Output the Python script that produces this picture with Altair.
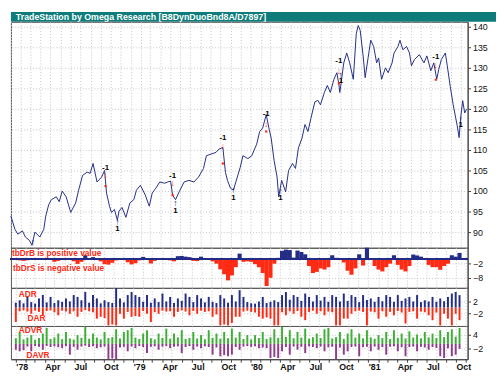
import altair as alt
import pandas as pd

title_text = "TradeStation by Omega Research  [B8DynDuoBnd8A/D7897]"

price_dates = [
    "1978-01-01", "1978-01-13", "1978-01-22", "1978-02-05", "1978-02-14", "1978-02-26", "1978-03-06", "1978-03-15",
    "1978-03-30", "1978-04-11", "1978-04-17", "1978-04-26", "1978-05-04", "1978-05-19", "1978-05-28", "1978-06-06",
    "1978-06-18", "1978-07-02", "1978-07-17", "1978-07-26", "1978-08-07", "1978-08-21", "1978-08-30", "1978-09-08",
    "1978-09-20", "1978-10-04", "1978-10-13", "1978-10-19", "1978-10-28", "1978-11-03", "1978-11-12", "1978-11-21",
    "1978-11-26", "1978-12-05", "1978-12-17", "1978-12-29", "1979-01-10", "1979-01-18", "1979-01-30", "1979-02-14",
    "1979-02-26", "1979-03-07", "1979-03-18", "1979-03-30", "1979-04-14", "1979-04-23", "1979-05-02", "1979-05-08",
    "1979-05-17", "1979-05-28", "1979-06-12", "1979-06-27", "1979-07-12", "1979-07-26", "1979-08-10", "1979-08-19",
    "1979-09-02", "1979-09-17", "1979-09-26", "1979-10-08", "1979-10-16", "1979-10-22", "1979-10-31", "1979-11-09",
    "1979-11-21", "1979-11-30", "1979-12-08", "1979-12-23", "1980-01-04", "1980-01-19", "1980-01-28", "1980-02-06",
    "1980-02-17", "1980-02-26", "1980-03-03", "1980-03-12", "1980-03-21", "1980-03-26", "1980-04-04", "1980-04-16",
    "1980-04-25", "1980-05-07", "1980-05-16", "1980-05-25", "1980-06-05", "1980-06-14", "1980-06-23", "1980-07-02",
    "1980-07-14", "1980-07-23", "1980-07-31", "1980-08-12", "1980-08-21", "1980-08-30", "1980-09-10", "1980-09-19",
    "1980-09-25", "1980-09-28", "1980-10-10", "1980-10-19", "1980-10-28", "1980-11-08", "1980-11-17", "1980-11-23",
    "1980-11-29", "1980-12-08", "1980-12-14", "1980-12-23", "1980-12-31", "1981-01-09", "1981-01-18", "1981-01-24",
    "1981-02-02", "1981-02-14", "1981-02-22", "1981-03-06", "1981-03-12", "1981-03-24", "1981-03-30", "1981-04-08",
    "1981-04-19", "1981-04-28", "1981-05-04", "1981-05-13", "1981-05-28", "1981-06-11", "1981-06-20", "1981-07-02",
    "1981-07-11", "1981-07-20", "1981-07-26", "1981-08-03", "1981-08-15", "1981-08-21", "1981-08-30", "1981-09-08",
    "1981-09-14", "1981-09-20", "1981-09-26", "1981-10-01", "1981-10-07", "1981-10-13", "1981-10-19",
]
price_values = [
    93.9, 90.7, 89.5, 90.3, 88.8, 88.0, 86.8, 90.0,
    88.8, 90.7, 93.9, 96.7, 97.9, 98.6, 97.4, 100.0,
    98.6, 94.8, 97.1, 100.2, 103.8, 104.6, 104.3, 106.7,
    102.2, 103.4, 105.0, 99.5, 96.3, 94.8, 95.5, 92.9,
    95.1, 96.0, 93.6, 97.1, 97.9, 100.2, 101.4, 99.0,
    96.3, 99.5, 100.7, 102.2, 101.9, 102.2, 102.4, 99.0,
    97.9, 99.8, 102.2, 102.6, 102.2, 103.4, 105.5, 108.6,
    109.0, 109.4, 110.2, 110.6, 104.5, 102.6, 100.7, 100.2,
    103.4, 105.8, 108.6, 107.9, 108.6, 111.4, 114.5, 115.3,
    118.6, 115.0, 112.9, 107.4, 103.4, 98.6, 102.6, 99.8,
    105.0, 106.7, 105.5, 110.5, 112.9, 116.2, 114.5, 117.7,
    121.7, 122.1, 121.0, 124.0, 125.7, 124.0, 127.2, 128.8,
    126.0, 124.0, 131.2, 133.6, 131.2, 127.2, 138.3, 140.3,
    139.1, 132.9, 127.6, 132.4, 136.7, 135.2, 131.2, 132.4,
    127.2, 130.0, 128.8, 131.2, 133.6, 135.2, 136.7, 134.4,
    135.2, 133.6, 130.5, 132.0, 133.2, 131.2, 132.9, 129.3,
    131.2, 127.2, 129.6, 132.0, 133.6, 130.5, 125.5, 121.0,
    118.5, 116.0, 113.0, 118.0, 122.0, 119.0, 120.0,
]

sell_dates = ["1978-10-16", "1979-05-08", "1979-10-08", "1980-02-17", "1980-09-25", "1981-07-17"]
sell_label_y = [105.7, 103.6, 112.9, 118.8, 131.7, 132.6]
sell_arrow_y = [103.8, 101.9, 111.0, 116.4, 129.3, 130.7]
sell_dot_y = [101.2, 99.0, 106.7, 114.5, 126.2, 127.1]

buy_arrow_dates = ["1978-03-09", "1978-11-21", "1979-05-17", "1979-11-09", "1980-03-31", "1980-10-01", "1981-10-01"]
buy_arrow_y = [87.6, 92.4, 97.1, 100.2, 100.0, 128.3, 117.6]
buy_label_dates = ["1978-11-21", "1979-05-17", "1979-11-09", "1980-03-31", "1980-10-01", "1981-10-01"]
buy_label_y = [90.7, 95.2, 98.3, 98.4, 126.7, 116.0]

# indicator histograms, one value every 12 days from 1978-01-01
hist_start = "1978-01-01"
tbdr = [
    -0.3, -0.6, -0.8, -0.5, 0.2, 0.3, 0.4, -0.3, 0.2, 0.3, -1.2, -0.8, 0.2, 0.3, 0.2, -1.0,
    -2.1, -1.2, 1.6, 0.4, 0.8, 0.3, -1.0, -2.2, -2.4, -1.6, -0.6, 0.3, 0.2, -1.4, -2.3, -1.8,
    -0.6, 0.9, 0.2, -1.9, -0.8, 0.3, 0.2, 0.4, -0.6, -1.0, 1.2, 1.3, 1.0, 0.8, -0.8, -0.9,
    1.0, 0.3, 0.2, -1.0, -2.0, -4.4, -6.5, -9.1, -7.0, -3.5, 2.3, -1.2, -1.0, -1.2, -2.2, -3.5,
    -6.0, -11.5, -8.0, -2.0, 0.5, 3.5, 4.0, 3.8, 0.6, 3.6, 3.0, 2.0, -3.0, -6.0, -5.5, -4.0,
    -4.5, -3.5, 1.6, 0.5, 0.3, -1.5, -5.0, -6.7, -4.0, 2.0, -2.8, 4.8, 0.4, -3.0, -4.5, -5.3,
    -3.5, -2.0, 1.6, -2.5, -4.5, -5.3, -3.0, 1.9, 1.5, 1.0, 0.3, -2.5, -3.5, -3.5, -4.6, -3.0,
    -2.0, 1.6, 1.0, 2.6,
]
adr = [
    1.6, 2.4, 1.4, 3.5, 1.8, 1.3, 3.0, 4.1, 1.7, 3.5, 1.5, 2.4, 1.9, 3.0, 2.0, 4.1,
    3.5, 2.4, 5.1, 1.6, 4.1, 3.0, 1.4, 2.4, 1.8, 1.5, 6.4, 3.0, 1.7, 4.1, 5.1, 4.1,
    3.5, 1.9, 4.1, 1.6, 3.0, 1.8, 4.6, 2.0, 3.5, 1.5, 3.0, 2.2, 4.6, 3.5, 1.8, 4.1,
    3.0, 1.7, 3.5, 1.9, 1.5, 4.1, 3.0, 1.6, 4.1, 2.0, 5.7, 3.5, 1.8, 1.4, 1.3, 2.0,
    3.5, 1.5, 1.9, 2.4, 1.8, 4.1, 5.1, 2.6, 4.1, 3.5, 2.2, 4.6, 3.5, 2.0, 4.1, 2.3,
    3.5, 1.9, 4.1, 3.5, 2.0, 4.6, 2.2, 4.1, 3.5, 1.8, 4.1, 2.5, 3.0, 1.9, 3.5, 2.1,
    4.1, 3.5, 1.9, 4.1, 2.2, 3.0, 3.5, 2.0, 4.1, 1.8, 2.4, 2.0, 3.5, 1.9, 3.0, 2.1,
    3.5, 4.6, 5.1, 4.1,
]
dar = [
    -4.7, -1.2, -0.9, -1.3, -2.0, -1.0, -1.4, -2.5, -1.1, -0.9, -1.5, -2.5, -1.0, -1.3, -2.0, -1.2,
    -3.0, -1.4, -0.8, -1.2, -1.5, -3.6, -3.0, -3.4, -5.8, -5.5, -5.8, -2.0, -3.6, -1.4, -3.0, -2.8,
    -3.0, -1.1, -2.0, -4.7, -1.5, -2.0, -1.0, -1.3, -1.2, -3.0, -1.4, -0.9, -1.3, -2.5, -1.1, -2.0,
    -1.0, -1.4, -1.2, -3.0, -2.2, -5.8, -5.5, -5.8, -5.0, -3.0, -3.0, -1.3, -1.0, -1.4, -1.6, -3.0,
    -3.6, -3.2, -3.6, -5.8, -5.8, -1.5, -2.5, -1.2, -2.0, -1.1, -3.0, -4.1, -1.4, -1.0, -2.0, -1.2,
    -2.5, -1.3, -1.5, -5.8, -5.8, -3.6, -3.6, -2.0, -1.2, -1.0, -1.4, -5.8, -1.3, -1.5, -3.6, -1.2,
    -3.0, -1.4, -2.5, -1.1, -1.6, -5.2, -1.4, -1.2, -3.6, -1.3, -1.5, -2.5, -4.1, -1.6, -5.8, -2.0,
    -3.6, -5.8, -2.0, -4.1,
]
advr = [
    2.5, 5.3, 2.0, 2.8, 3.9, 1.8, 2.6, 4.6, 7.1, 2.2, 2.9, 4.6, 2.1, 5.3, 2.4, 1.9,
    3.9, 2.7, 7.5, 2.3, 4.6, 2.8, 2.0, 5.3, 2.6, 3.0, 6.5, 2.4, 5.3, 6.1, 7.1, 2.8,
    2.2, 4.6, 6.1, 2.5, 2.0, 4.6, 2.7, 6.8, 2.3, 4.6, 2.9, 6.1, 2.2, 2.6, 5.3, 2.4,
    3.9, 2.1, 6.1, 2.7, 4.6, 2.3, 5.3, 2.5, 6.8, 2.8, 5.3, 2.2, 3.9, 2.0, 3.9, 2.6,
    5.3, 2.2, 2.9, 6.5, 2.7, 7.5, 3.1, 6.1, 2.5, 5.3, 2.8, 6.8, 2.3, 3.0, 4.6, 2.6,
    6.5, 7.1, 2.4, 3.0, 5.3, 2.2, 4.6, 6.5, 2.8, 4.6, 2.5, 6.1, 2.9, 2.3, 3.9, 2.6,
    5.3, 2.2, 6.1, 2.7, 4.6, 2.4, 5.6, 2.8, 4.2, 2.5, 5.3, 2.9, 4.6, 2.6, 6.1, 3.0,
    5.3, 6.5, 3.2, 7.1,
]
davr = [
    -2.6, -3.3, -2.8, -1.2, -3.3, -1.0, -1.3, -2.6, -0.9, -1.4, -1.1, -1.5, -1.9, -1.0, -4.8, -1.3,
    -2.6, -1.2, -0.8, -1.4, -1.1, -1.9, -1.5, -1.2, -6.8, -6.5, -6.8, -1.6, -1.3, -3.3, -1.2, -1.9,
    -1.0, -1.4, -4.1, -1.3, -1.1, -2.6, -1.2, -1.0, -1.9, -1.3, -1.1, -4.1, -1.4, -1.0, -2.6, -1.2,
    -1.9, -1.1, -1.4, -4.8, -1.6, -5.5, -5.0, -5.5, -4.8, -1.4, -2.6, -1.2, -1.0, -1.3, -1.1, -1.9,
    -1.6, -1.9, -6.3, -5.8, -6.3, -3.3, -1.4, -4.8, -1.2, -2.6, -1.3, -4.1, -1.1, -1.4, -1.9, -1.2,
    -3.3, -1.5, -1.3, -6.8, -1.6, -4.8, -3.3, -1.4, -1.2, -5.5, -1.5, -1.3, -3.3, -1.2, -2.6, -1.4,
    -4.8, -1.3, -1.1, -3.3, -1.5, -5.5, -1.4, -1.2, -3.3, -1.3, -1.6, -2.6, -1.4, -1.8, -5.5, -6.3,
    -2.0, -5.5, -4.8, -2.2,
]

FONT = "Liberation Sans"
NAVY = "#232c86"
RED = "#ff2a14"
GREEN = "#3cb034"
PURPLE = "#8e3d8c"
GRID = "#c4c4c4"
W = 467

hist_dates = pd.date_range(hist_start, periods=len(tbdr), freq="12D")
hist_df = pd.DataFrame({"date": hist_dates, "tbdr": tbdr, "adr": adr, "dar": dar,
                        "advr": advr, "davr": davr})
price_df = pd.DataFrame({"date": pd.to_datetime(price_dates), "value": price_values})
sell_df = pd.DataFrame({"date": pd.to_datetime(sell_dates), "label": sell_label_y,
                        "arrow": sell_arrow_y, "dot": sell_dot_y})
buy_arrow_df = pd.DataFrame({"date": pd.to_datetime(buy_arrow_dates), "arrow": buy_arrow_y})
buy_label_df = pd.DataFrame({"date": pd.to_datetime(buy_label_dates), "label": buy_label_y})

xscale = alt.Scale(domain=[alt.DateTime(year=1978, month=1, date=1),
                           alt.DateTime(year=1981, month=10, date=22)])
month_ticks = {"interval": "month", "step": 1}
grid_x = alt.Axis(title=None, labels=False, ticks=False, domain=False, grid=True,
                  gridColor=GRID, gridDash=[1, 2], tickCount=month_ticks)
bottom_x = alt.Axis(
    title=None, grid=True, gridColor=GRID, gridDash=[1, 2], tickCount=month_ticks,
    labelExpr="month(datum.value) == 0 ? \"'\" + timeFormat(datum.value, '%y') : "
              "(month(datum.value) % 3 == 0 ? timeFormat(datum.value, '%b') : '')",
    labelAlign="left", labelOverlap=False, labelFontSize=9, labelFontWeight="bold",
    labelColor="#111111", tickSize=3, tickColor="#404040", domainColor="#404040",
    labelPadding=1, labelFont=FONT)


def yaxis(vals):
    return alt.Axis(orient="right", title=None, values=vals, grid=True, gridColor=GRID,
                    gridDash=[1, 2], tickSize=3, tickColor="#404040", domainColor="#404040",
                    labelFontSize=9, labelFont=FONT, labelColor="#111111", labelPadding=2)


def xenc(axis):
    return alt.X("date:T", scale=xscale, axis=axis)


def panel_text(txt, x, y):
    return alt.Chart(pd.DataFrame({"t": [txt]})).mark_text(
        align="left", baseline="middle", color=RED, fontWeight="bold", fontSize=8.5, font=FONT
    ).encode(text="t:N", x=alt.value(x), y=alt.value(y))


# title bar
title_bar = alt.Chart(pd.DataFrame({"t": [title_text]})).mark_text(
    align="left", baseline="middle", color="white", fontWeight="bold", fontSize=9, font=FONT
).encode(text="t:N", x=alt.value(5), y=alt.value(5)).properties(
    width=496, height=10, view=alt.ViewBackground(fill="#0e7c7b", strokeWidth=0))

# main price panel
py = alt.Scale(domain=[86.19, 141.19], nice=False, zero=False)
pyax = yaxis(list(range(90, 141, 5)))
line = alt.Chart(price_df).mark_line(color=NAVY, strokeWidth=1).encode(
    x=xenc(grid_x), y=alt.Y("value:Q", scale=py, axis=pyax))
sell_lab = alt.Chart(sell_df).mark_text(text="-1", fontSize=8, fontWeight="bold", color="black",
                                        font=FONT).encode(
    x=xenc(grid_x), y=alt.Y("label:Q", scale=py, axis=pyax))
sell_arr = alt.Chart(sell_df).mark_text(text="↓", fontSize=9, fontWeight="bold", color=RED).encode(
    x=xenc(grid_x), y=alt.Y("arrow:Q", scale=py, axis=pyax))
sell_dot = alt.Chart(sell_df).mark_square(size=5, color=RED, opacity=1).encode(
    x=xenc(grid_x), y=alt.Y("dot:Q", scale=py, axis=pyax))
buy_arr = alt.Chart(buy_arrow_df).mark_text(text="↑", fontSize=9, fontWeight="bold", color=NAVY).encode(
    x=xenc(grid_x), y=alt.Y("arrow:Q", scale=py, axis=pyax))
buy_lab = alt.Chart(buy_label_df).mark_text(text="1", fontSize=8, fontWeight="bold", color="black",
                                            font=FONT).encode(
    x=xenc(grid_x), y=alt.Y("label:Q", scale=py, axis=pyax))
main = alt.layer(line, sell_dot, sell_arr, sell_lab, buy_arr, buy_lab).properties(width=W, height=231)

# tbDr panel
tscale = alt.Scale(domain=[-12.29, 4.79], nice=False)
tax = yaxis([-2, -8])
tb_bars = alt.Chart(hist_df).mark_bar(size=4.2).encode(
    x=xenc(grid_x), y=alt.Y("tbdr:Q", scale=tscale, axis=tax), y2=alt.datum(0),
    color=alt.condition("datum.tbdr >= 0", alt.value(NAVY), alt.value(RED)))
tb_zero = alt.Chart(hist_df).mark_rule(color=NAVY, strokeWidth=1).encode(
    y=alt.datum(0, scale=tscale))
tb = alt.layer(tb_bars, tb_zero,
               panel_text("tbDrB is positive value", 1, 5),
               panel_text("tbDrS is negative value", 2, 21)).properties(width=W, height=41)

# ADR / DAR panel
ascale = alt.Scale(domain=[-6.0, 6.46], nice=False)
aax = yaxis([2, -2])
adr_bars = alt.Chart(hist_df).mark_bar(size=2, color=NAVY).encode(
    x=xenc(grid_x), y=alt.Y("adr:Q", scale=ascale, axis=aax), y2=alt.datum(0))
dar_bars = alt.Chart(hist_df).mark_bar(size=2, color=RED).encode(
    x=xenc(grid_x), y=alt.Y("dar:Q", scale=ascale, axis=aax), y2=alt.datum(0))
adr_panel = alt.layer(adr_bars, dar_bars, panel_text("ADR", 8, 6),
                      panel_text("DAR", 17, 31)).properties(width=W, height=39)

# ADVR / DAVR panel
vscale = alt.Scale(domain=[-6.83, 7.96], nice=False)
vax = yaxis([4, -2])
advr_bars = alt.Chart(hist_df).mark_bar(size=2, color=GREEN).encode(
    x=xenc(bottom_x), y=alt.Y("advr:Q", scale=vscale, axis=vax), y2=alt.datum(0))
davr_bars = alt.Chart(hist_df).mark_bar(size=2, color=PURPLE).encode(
    x=xenc(bottom_x), y=alt.Y("davr:Q", scale=vscale, axis=vax), y2=alt.datum(0))
advr_panel = alt.layer(advr_bars, davr_bars, panel_text("ADVR", 8, 4),
                       panel_text("DAVR", 16, 30)).properties(width=W, height=34)

chart = alt.vconcat(title_bar, main, tb, adr_panel, advr_panel, spacing=0, bounds="flush").properties(
    padding=0, background="white"
).resolve_scale(y="independent", color="independent").configure_view(
    stroke="#555555", strokeWidth=1).configure_concat(spacing=0)

chart.save("out.html", embed_options={"renderer": "svg", "actions": False})
